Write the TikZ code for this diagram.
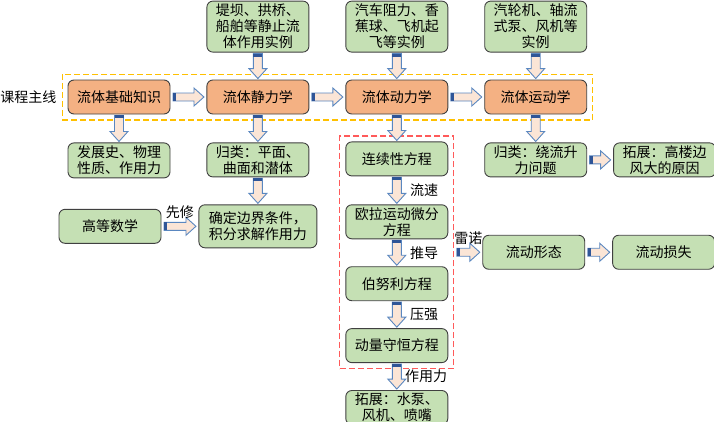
\documentclass[tikz,border=0pt]{standalone}
\usepackage{fontspec}
\setmainfont{Noto Sans CJK SC}
\usepackage{xcolor}
\usetikzlibrary{positioning,calc,fit}
\definecolor{mainfill}{HTML}{F4B183}
\definecolor{leaffill}{HTML}{C5E0B4}
\definecolor{ink}{HTML}{404040}
\definecolor{flowfill}{HTML}{FBE5D6}
\definecolor{flowline}{HTML}{5A87C0}
\definecolor{flowtail}{HTML}{2F5597}
\definecolor{laneline}{HTML}{FFC000}
\definecolor{redline}{HTML}{FF5A5A}

% block arrows, downwards and to the right
\newcommand{\vflow}[2]{%
  \path[fill=flowfill, draw=flowline, line width=0.9pt] let \p1=(#1), \p2=(#2) in
    (\x1-4.5pt,\y1-1pt) -- (\x1-4.5pt,\y2+11pt) -- (\x1-9pt,\y2+11pt) -- (\x1,\y2+1pt)
    -- (\x1+9pt,\y2+11pt) -- (\x1+4.5pt,\y2+11pt) -- (\x1+4.5pt,\y1-1pt) -- cycle;
  \fill[flowtail] let \p1=(#1) in (\x1-4.5pt,\y1-1pt) rectangle (\x1+4.5pt,\y1-4pt);}
\newcommand{\hflow}[2]{%
  \path[fill=flowfill, draw=flowline, line width=0.9pt] let \p1=(#1), \p2=(#2) in
    (\x1+2.5pt,\y1+4pt) -- (\x2-12.5pt,\y1+4pt) -- (\x2-12.5pt,\y1+9pt) -- (\x2-2.5pt,\y1)
    -- (\x2-12.5pt,\y1-9pt) -- (\x2-12.5pt,\y1-4pt) -- (\x1+2.5pt,\y1-4pt) -- cycle;
  \fill[flowtail] let \p1=(#1) in (\x1+2.5pt,\y1+4pt) rectangle (\x1+5.5pt,\y1-4pt);}

\begin{document}
\begin{tikzpicture}[
  x=1pt, y=-1pt,
  font=\fontsize{14}{16}\selectfont,
  card/.style={draw=ink, line width=0.9pt, rounded corners=6pt, align=center, inner sep=2pt, minimum width=102pt, minimum height=34pt},
  topic/.style={card, fill=mainfill},
  leaf/.style={card, fill=leaffill},
  note/.style={inner sep=1pt},
  lanebox/.style={draw=laneline, line width=1.1pt, dash pattern=on 6pt off 3pt, inner sep=5.5pt},
  corebox/.style={draw=redline, line width=1.1pt, dash pattern=on 6pt off 3pt, inner sep=5.5pt}
  ]
  \useasboundingbox (0,0) rectangle (714,421);
  % Main line
  \node[topic] (base) at (119,97) {流体基础知识};
  \node[topic, right=36pt of base] (stat) {流体静力学};
  \node[topic, right=36pt of stat] (dyn) {流体动力学};
  \node[topic, right=36pt of dyn] (kin) {流体运动学};
  \node[lanebox, fit=(base)(kin)] (lane) {};
  \node[note, left=4pt of lane] (lanetxt) {课程主线};
  % Examples
  \node[leaf, minimum height=51pt, above=27pt of stat] (statex) {堤坝、拱桥、\\船舶等静止流\\体作用实例};
  \node[leaf, minimum height=51pt, above=27pt of dyn] (dynex) {汽车阻力、香\\蕉球、飞机起\\飞等实例};
  \node[leaf, minimum height=51pt, above=27pt of kin] (kinex) {汽轮机、轴流\\式泵、风机等\\实例};
  % Basics and statics
  \node[leaf, minimum height=35pt, below=28pt of base] (hist) {发展史、物理\\性质、作用力};
  \node[leaf, below=28pt of stat] (cls) {归类：平面、\\曲面和潜体};
  \node[leaf, minimum width=118pt, minimum height=43pt, below=27pt of cls] (bound) {确定边界条件，\\积分求解作用力};
  \node[leaf, left=37pt of bound] (math) {高等数学};
  % Dynamics
  \node[leaf, below=27pt of dyn] (cont) {连续性方程};
  \node[leaf, below=28pt of cont] (euler) {欧拉运动微分\\方程};
  \node[leaf, below=27pt of euler] (bern) {伯努利方程};
  \node[leaf, below=27pt of bern] (mom) {动量守恒方程};
  \node[leaf, below=27pt of mom] (pump) {拓展：水泵、\\风机、喷嘴};
  \node[corebox, fit=(cont)(mom)] (core) {};
  % Kinematics
  \node[leaf, below=28pt of kin] (lift) {归类：绕流升\\力问题};
  \node[leaf, right=26pt of lift] (tall) {拓展：高楼边\\风大的原因};
  \node[leaf, right=28pt of core] (form) {流动形态};
  \node[leaf, right=27pt of form] (loss) {流动损失};

  % arrows
  \hflow{base.east}{stat.west}
  \hflow{stat.east}{dyn.west}
  \hflow{dyn.east}{kin.west}
  \vflow{statex.south}{stat.north}
  \vflow{dynex.south}{dyn.north}
  \vflow{kinex.south}{kin.north}
  \vflow{base.south}{hist.north}
  \vflow{stat.south}{cls.north}
  \vflow{cls.south}{bound.north}
  \hflow{math.east}{bound.west}
  \vflow{dyn.south}{cont.north}
  \vflow{cont.south}{euler.north}
  \vflow{euler.south}{bern.north}
  \vflow{bern.south}{mom.north}
  \vflow{mom.south}{pump.north}
  \vflow{kin.south}{lift.north}
  \hflow{lift.east}{tall.west}
  \hflow{core.east}{form.west}
  \hflow{form.east}{loss.west}

  % arrow labels
  \node[note, anchor=south] (pre) at ($(math.east)!0.5!(bound.west)+(0,-6)$) {先修};
  \node[note, anchor=west] (speed) at ($(cont.south)!0.5!(euler.north)+(12,0)$) {流速};
  \node[note, anchor=west] (derive) at ($(euler.south)!0.5!(bern.north)+(12,0)$) {推导};
  \node[note, anchor=west] (press) at ($(bern.south)!0.5!(mom.north)+(12,0)$) {压强};
  \node[note, anchor=west] (force) at ($(mom.south)!0.5!(pump.north)+(7,0)$) {作用力};
  \node[note, anchor=south] (rey) at ($(core.east)!0.5!(form.west)+(0,-6)$) {雷诺};
\end{tikzpicture}
\end{document}
